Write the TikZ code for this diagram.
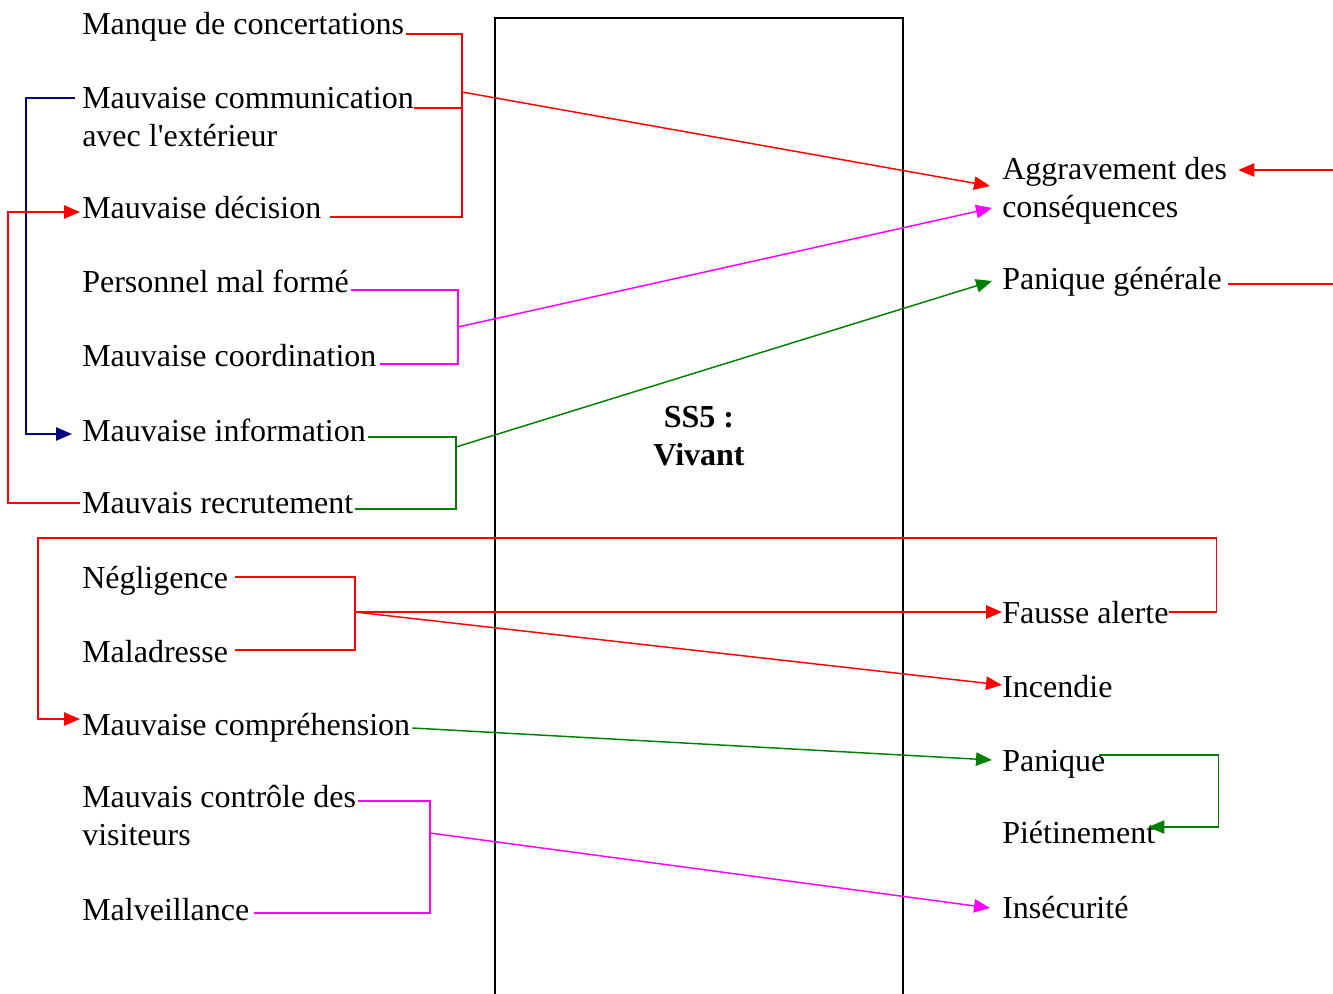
\documentclass[tikz,border=0pt]{standalone}
\usepackage{fontspec}
\setmainfont{Liberation Serif}[Ligatures=TeXOff]
\usetikzlibrary{arrows.meta}
\definecolor{linkred}{RGB}{255,0,0}
\definecolor{linkpink}{RGB}{255,0,255}
\definecolor{linkgreen}{RGB}{0,128,0}
\definecolor{linknavy}{RGB}{0,0,128}
\begin{document}
\begin{tikzpicture}[x=0.75pt,y=-0.75pt,
  lbl/.style={anchor=base west,inner sep=0pt,font=\fontsize{24}{28.5}\selectfont,align=left},
  wire/.style={line width=1.1pt},
  tip/.style={-{Triangle[length=12pt,width=10pt]}},
  ]
\useasboundingbox (0,0) rectangle (1333,994);

% central sub-system frame
\draw[line width=1.5pt] (495,1010) -- (495,18) -- (903,18) -- (903,1010);
\node[font=\fontsize{24}{28.5}\selectfont\bfseries,align=center,inner sep=0pt] (ss5) at (699,436) {SS5 :\\Vivant};

% causes (left column); two-line labels are placed by their last baseline
\node[lbl] (manque)    at (82,35)  {Manque de concertations};
\node[lbl] (comm)      at (82,147) {Mauvaise communication\\avec l'extérieur};
\node[lbl] (decision)  at (82,219) {Mauvaise décision};
\node[lbl] (personnel) at (82,293) {Personnel mal formé};
\node[lbl] (coord)     at (82,367) {Mauvaise coordination};
\node[lbl] (info)      at (82,441) {Mauvaise information};
\node[lbl] (recrut)    at (82,513) {Mauvais recrutement};
\node[lbl] (neglig)    at (82,588) {Négligence};
\node[lbl] (malad)     at (82,662) {Maladresse};
\node[lbl] (compr)     at (82,735) {Mauvaise compréhension};
\node[lbl] (controle)  at (82,845) {Mauvais contrôle des\\visiteurs};
\node[lbl] (malveil)   at (82,920) {Malveillance};

% effects (right column)
\node[lbl] (agg)      at (1002,218) {Aggravement des\\conséquences};
\node[lbl] (panG)     at (1002,290) {Panique générale};
\node[lbl] (fausse)   at (1002,623) {Fausse alerte};
\node[lbl] (incendie) at (1002,697) {Incendie};
\node[lbl] (panique)  at (1002,771) {Panique};
\node[lbl] (pietin)   at (1002,843) {Piétinement};
\node[lbl] (insec)    at (1002,918) {Insécurité};

% junction points of the grouped causes
\coordinate (jA) at (462,92);
\coordinate (jB) at (458,327);
\coordinate (jC) at (456,447);
\coordinate (jD) at (355,612);
\coordinate (jE) at (430,833);
\coordinate (loopL) at (38,538);
\coordinate (edgeA) at (1333,170);
\coordinate (edgeB) at (1333,284);

% red group -> aggravement
\draw[wire,linkred] ([shift={(2,-1)}]manque.base east) -| (jA) |- ([shift={(8,-2)}]decision.base east);
\draw[wire,linkred] ([shift={(0,-39)}]comm.base east) coordinate (c1) -- (c1 -| jA);
\draw[wire,linkred,tip] (jA) -- ([shift={(-12,-32)}]agg.base west);

% feedback loops on the left
\draw[wire,linknavy,tip] ([shift={(-7,-49)}]comm.base west) -- ++(-49,0) |- ([shift={(-10,-7)}]info.base west);
\draw[wire,linkred,tip] ([shift={(-2,-10)}]recrut.base west) -- ++(-72,0) |- ([shift={(-2,-7)}]decision.base west);

% magenta group -> aggravement
\draw[wire,linkpink] ([shift={(2,-3)}]personnel.base east) -| (jB) |- ([shift={(3,-3)}]coord.base east);
\draw[wire,linkpink,tip] (jB) -- ([shift={(-10,-10)}]agg.base west);

% green group -> panique generale
\draw[wire,linkgreen] ([shift={(2,-4)}]info.base east) -| (jC) |- ([shift={(1,-4)}]recrut.base east);
\draw[wire,linkgreen,tip] (jC) -- ([shift={(-10,-9)}]panG.base west);

% links leaving on the right
\draw[wire,linkred,tip] (edgeA) -- ([shift={(11,-48)}]agg.base east);
\draw[wire,linkred] ([shift={(6,-6)}]panG.base east) -- (edgeB);

% fausse alerte back to mauvaise comprehension
\draw[wire,linkred,tip] ([shift={(0,-11)}]fausse.base east) -- ++(48,0) -- ++(0,-74) -- (loopL) |- ([shift={(-2,-16)}]compr.base west);

% negligence / maladresse
\draw[wire,linkred] ([shift={(7,-11)}]neglig.base east) -| (jD) |- ([shift={(7,-12)}]malad.base east);
\draw[wire,linkred,tip] (jD) -- ([shift={(0,-11)}]fausse.base west);
\draw[wire,linkred,tip] (jD) -- ([shift={(0,-12)}]incendie.base west);

% comprehension -> panique -> pietinement
\draw[wire,linkgreen,tip] ([shift={(2,-7)}]compr.base east) -- ([shift={(-10,-11)}]panique.base west);
\draw[wire,linkgreen,tip] ([shift={(-7,-16)}]panique.base east) -- ++(120,0) |- ([shift={(-7,-16)}]pietin.base east);

% visiteurs / malveillance -> insecurite
\draw[wire,linkpink] ([shift={(2,-44)}]controle.base east) -| (jE) |- ([shift={(4,-7)}]malveil.base east);
\draw[wire,linkpink,tip] (jE) -- ([shift={(-12,-10)}]insec.base west);
\end{tikzpicture}
\end{document}
